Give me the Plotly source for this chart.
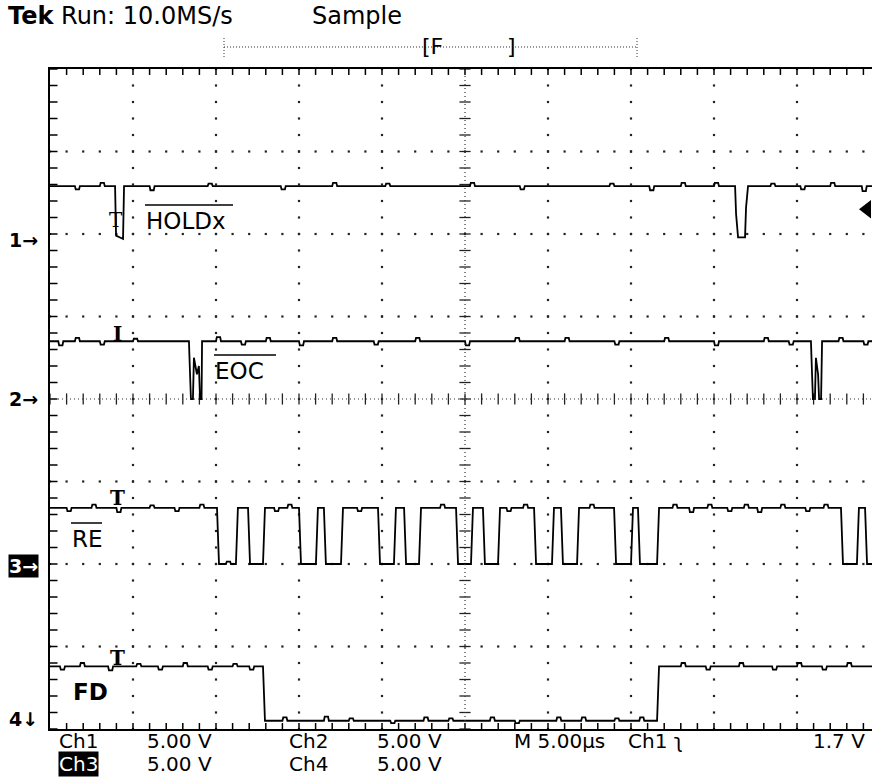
import numpy as np
import plotly.graph_objects as go

# ---------------- data (time in microseconds, level in volts) ----------------
US_PER_DIV = 5.0
V_PER_DIV = 5.0

# Ch1  /HOLDx  (breakpoints)
ch1_t = [0.0, 3.92, 3.98, 4.40, 4.46, 41.27, 41.33, 41.45, 41.87, 41.93, 42.05, 49.6]
ch1_v = [3.1, 3.1, 0.1, -0.1, 3.1, 3.1, 1.4, 0.0, 0.0, 1.8, 3.1, 3.1]
ch1_blip_t = [1.5, 3.0, 6.0, 9.5, 13.9, 17.0, 20.2, 25.3, 28.3, 33.7, 36.1, 38.0, 40.0, 43.4, 45.2, 47.0, 48.9]
ch1_blip_v = [-0.2, 0.2, -0.25, 0.15, -0.2, 0.2, 0.15, 0.2, -0.2, 0.15, -0.25, 0.2, 0.2, 0.15, -0.2, 0.2, -0.3]

# Ch2  /EOC
ch2_t = [0.0, 8.37, 8.43, 8.49, 8.61, 8.67, 8.85, 8.97, 9.04, 9.13, 9.16,
         45.84, 45.90, 45.96, 46.08, 46.14, 46.27, 46.33, 46.45, 46.51, 49.6]
ch2_v = [3.5, 3.5, 1.7, 0.0, 0.0, 2.5, 1.5, 2.0, 0.0, 0.0, 3.5,
         3.5, 1.7, 0.0, 0.0, 2.5, 1.5, 0.0, 0.0, 3.5, 3.5]
ch2_blip_t = [0.5, 1.5, 3.0, 5.0, 10.0, 11.5, 13.0, 15.0, 17.0, 19.5, 22.0, 25.0,
              28.0, 31.0, 34.0, 37.0, 40.0, 43.0, 44.5, 47.5, 49.0]
ch2_blip_v = [-0.25, 0.2, -0.2, 0.15, 0.25, -0.2, 0.2, -0.25, 0.2, -0.2, 0.2, -0.25,
              0.2, 0.2, -0.2, 0.2, -0.25, 0.2, -0.2, 0.2, -0.2]

# Ch3  /RE  (edges: fall, rise, fall, rise ...)
ch3_edges = [10.06, 11.20, 11.93, 12.83,
             15.00, 16.02, 16.50, 17.53,
             19.76, 20.72, 21.33, 22.23,
             24.46, 25.36, 26.08, 26.99,
             29.16, 30.24, 30.78, 31.75,
             33.98, 35.00, 35.42, 36.57,
             47.65, 48.61, 49.10]
ch3_high = 3.4
ch3_low = 0.0
ch3_blip_t = [1.0, 2.5, 4.0, 6.0, 7.5, 9.0, 10.6, 13.5, 14.3, 18.5, 23.5, 27.5, 28.5,
              32.5, 37.5, 38.5, 39.6, 40.8, 41.8, 42.6, 44.0, 45.5, 46.6]
ch3_blip_v = [-0.2, 0.2, -0.25, 0.15, -0.2, 0.2, 0.15, -0.2, 0.2, -0.2, 0.2, -0.2, 0.2,
              0.2, 0.2, -0.25, 0.2, -0.2, 0.2, -0.25, 0.2, -0.2, 0.2]

# Ch4  FD  (edges: fall, rise)
ch4_edges = [12.83, 36.57]
ch4_high = 3.3
ch4_low = 0.0
ch4_blip_t = [0.6, 1.8, 3.5, 5.2, 6.5, 8.0, 9.5, 11.0, 12.0,
              14.0, 16.5, 18.0, 20.5, 22.5, 24.0, 26.5, 28.0, 30.5, 32.0, 34.0, 35.5,
              38.0, 39.5, 41.5, 43.5, 45.0, 46.5, 48.0]
ch4_blip_v = [-0.2, 0.2, -0.25, 0.15, -0.2, 0.2, -0.2, 0.15, -0.2,
              0.2, 0.25, 0.15, -0.15, 0.2, 0.15, 0.2, -0.15, 0.2, 0.2, 0.15, 0.2,
              0.2, -0.2, 0.2, -0.2, 0.2, -0.2, 0.2]

# channel ground positions (divisions from centre)
ch_offset = {"1": 1.96, "2": 0.0, "3": -2.0, "4": -3.9}

# ---------------- helpers ----------------
X_MAX = 822 / 83 * US_PER_DIV  # visible part of the 10 div screen


def edges_to_wave(edges, hi, lo, start_high=True, slope=0.12):
    t = [0.0]
    v = [hi if start_high else lo]
    level = start_high
    for e in edges:
        t.append(e)
        v.append(hi if level else lo)
        level = not level
        t.append(e + slope)
        v.append(hi if level else lo)
    t.append(X_MAX + 1)
    v.append(hi if level else lo)
    return t, v


def add_blips(t, v, bt, bv, w=0.25):
    pts = list(zip(t, v))
    for t0, dv in zip(bt, bv):
        base = float(np.interp(t0, t, v))
        pts += [(t0, base), (t0 + 0.05, base + dv),
                (t0 + w, base + dv), (t0 + w + 0.05, base)]
    pts.sort(key=lambda p: p[0])
    return [p[0] for p in pts], [p[1] for p in pts]


def to_div(v, ch):
    return [ch_offset[ch] + x / V_PER_DIV for x in v]


ch3_t, ch3_v = edges_to_wave(ch3_edges, ch3_high, ch3_low)
ch4_t, ch4_v = edges_to_wave(ch4_edges, ch4_high, ch4_low)

waves = [
    add_blips(ch1_t, ch1_v, ch1_blip_t, ch1_blip_v) + ("1",),
    add_blips(ch2_t, ch2_v, ch2_blip_t, ch2_blip_v) + ("2",),
    add_blips(ch3_t, ch3_v, ch3_blip_t, ch3_blip_v) + ("3",),
    add_blips(ch4_t, ch4_v, ch4_blip_t, ch4_blip_v) + ("4",),
]

fig = go.Figure()

# ---------------- graticule ----------------
minor_y = np.round(np.arange(-4, 4.0001, 0.2), 3)
minor_x = np.arange(0, X_MAX, 1.0)
gx, gy = [], []
for xv in [5, 10, 15, 20, 30, 35, 40, 45]:
    for yv in minor_y:
        gx.append(xv)
        gy.append(yv)
for yv in [-3, -2, -1, 1, 2, 3]:
    for xv in minor_x:
        gx.append(xv)
        gy.append(yv)
fig.add_trace(go.Scatter(x=gx, y=gy, mode="markers", hoverinfo="skip",
                         marker=dict(symbol="square", size=2.2, color="#222"),
                         showlegend=False))

# centre axes (dotted) with crossing ticks
fig.add_shape(type="line", x0=25, x1=25, y0=-4, y1=4,
              line=dict(color="#333", width=1.2, dash="1px,3px"))
fig.add_shape(type="line", x0=0, x1=X_MAX, y0=0, y1=0,
              line=dict(color="#333", width=1.2, dash="1px,3px"))
fig.add_trace(go.Scatter(x=[25] * len(minor_y), y=minor_y, mode="markers",
                         hoverinfo="skip", showlegend=False,
                         marker=dict(symbol="line-ew", size=8,
                                     line=dict(width=1.3, color="#222"))))
fig.add_trace(go.Scatter(x=minor_x, y=[0] * len(minor_x), mode="markers",
                         hoverinfo="skip", showlegend=False,
                         marker=dict(symbol="line-ns", size=8,
                                     line=dict(width=1.3, color="#222"))))
# border ticks
bx = list(minor_x[1:])
fig.add_trace(go.Scatter(x=bx + bx, y=[3.97] * len(bx) + [-3.97] * len(bx),
                         mode="markers", hoverinfo="skip", showlegend=False,
                         marker=dict(symbol="line-ns", size=5,
                                     line=dict(width=1.5, color="black"))))
fig.add_trace(go.Scatter(x=[0.2] * len(minor_y), y=minor_y,
                         mode="markers", hoverinfo="skip", showlegend=False,
                         marker=dict(symbol="line-ew", size=6,
                                     line=dict(width=1.5, color="black"))))

# ---------------- waveforms ----------------
for t, v, ch in waves:
    fig.add_trace(go.Scatter(x=t, y=to_div(v, ch), mode="lines",
                             line=dict(color="black", width=1.8),
                             hoverinfo="skip", showlegend=False))

# trigger level marker (right edge)
fig.add_trace(go.Scatter(x=[X_MAX - 0.3], y=[ch_offset["1"] + 1.7 / V_PER_DIV],
                         mode="markers", hoverinfo="skip", showlegend=False,
                         cliponaxis=False,
                         marker=dict(symbol="triangle-left", size=16, color="black")))


# ---------------- text ----------------
def px_x(px):
    return (px - 50) / 822


def px_y(py):
    return (729 - py) / 660


ann = []
hdr_font = dict(family="DejaVu Sans, sans-serif", size=24, color="black")
ftr_font = dict(family="DejaVu Sans, sans-serif", size=20, color="black")


def add_text(text, x, y, font, xanchor="left", **kw):
    kw.setdefault("borderpad", 0)
    ann.append(dict(text=text, x=px_x(x), y=px_y(y), xref="paper", yref="paper",
                    xanchor=xanchor, yanchor="middle", showarrow=False,
                    font=font, **kw))


add_text("<b>Tek</b> Run: 10.0MS/s", 7, 16, hdr_font)
add_text("Sample", 311, 16, hdr_font)

add_text("Ch1", 58, 741, ftr_font)
add_text("5.00 V", 146, 741, ftr_font)
add_text("Ch2", 288, 741, ftr_font)
add_text("5.00 V", 376, 741, ftr_font)
add_text("M 5.00µs", 513, 741, ftr_font)
add_text("Ch1 ʅ", 627, 741, ftr_font)
add_text("1.7 V", 866, 741, ftr_font, xanchor="right")
add_text("Ch3", 58, 764, dict(ftr_font, color="white"), bgcolor="black")
add_text("5.00 V", 146, 764, ftr_font)
add_text("Ch4", 288, 764, ftr_font)
add_text("5.00 V", 376, 764, ftr_font)

mk_font = dict(family="DejaVu Sans, sans-serif", size=19, color="black", weight="bold")
add_text("1→", 8, 240, mk_font)
add_text("2→", 8, 399, mk_font)
add_text("3→", 8, 566, dict(mk_font, color="white"), bgcolor="black")
add_text("4↓", 8, 719, mk_font)

lbl_font = dict(family="DejaVu Sans, sans-serif", size=23, color="black")
add_text("HOLDx", 145, 221, lbl_font)
add_text("EOC", 214, 371, lbl_font)
add_text("RE", 71, 539, lbl_font)
add_text("FD", 72, 692, dict(lbl_font, weight="bold"))

# channel "T" markers
tm_font = dict(family="DejaVu Serif, serif", size=20, color="black", weight="bold")
add_text("T", 116, 220, dict(tm_font, weight="normal"), xanchor="center")
add_text("I", 117, 334, tm_font, xanchor="center")
add_text("T", 117, 498, tm_font, xanchor="center")
add_text("T", 117, 658, tm_font, xanchor="center")

# time window indicator
add_text("[F", 421, 47, dict(hdr_font, size=22), xanchor="left")
add_text("]", 506, 47, dict(hdr_font, size=22), xanchor="left")

fig.update_layout(annotations=ann)

shapes = [
    dict(type="line", xref="paper", yref="paper", x0=px_x(224), x1=px_x(637),
         y0=px_y(47), y1=px_y(47), line=dict(color="#333", width=1, dash="1px,2px")),
    dict(type="line", xref="paper", yref="paper", x0=px_x(224), x1=px_x(224),
         y0=px_y(38), y1=px_y(57), line=dict(color="#333", width=1, dash="1px,2px")),
    dict(type="line", xref="paper", yref="paper", x0=px_x(637), x1=px_x(637),
         y0=px_y(38), y1=px_y(57), line=dict(color="#333", width=1, dash="1px,2px")),
    # overlines for active-low signal names
    dict(type="line", xref="paper", yref="paper", x0=px_x(145), x1=px_x(233),
         y0=px_y(205), y1=px_y(205), line=dict(color="black", width=1.5)),
    dict(type="line", xref="paper", yref="paper", x0=px_x(214), x1=px_x(276),
         y0=px_y(355), y1=px_y(355), line=dict(color="black", width=1.5)),
    dict(type="line", xref="paper", yref="paper", x0=px_x(71), x1=px_x(102),
         y0=px_y(523), y1=px_y(523), line=dict(color="black", width=1.5)),
]
for s in shapes:
    fig.add_shape(**s)

fig.update_layout(
    width=872, height=778,
    margin=dict(l=50, r=0, t=69, b=49, pad=0),
    paper_bgcolor="white", plot_bgcolor="white",
    showlegend=False,
    xaxis=dict(range=[0, X_MAX], showgrid=False, zeroline=False,
               showticklabels=False, ticks="", showline=True, mirror=True,
               linecolor="black", linewidth=2, fixedrange=True),
    yaxis=dict(range=[-4, 4], showgrid=False, zeroline=False,
               showticklabels=False, ticks="", showline=True, mirror=False,
               linecolor="black", linewidth=2, fixedrange=True),
)

# remove the page's default body margin so the figure fills the window exactly
fig.write_html("out.html",
               config={"displayModeBar": False, "staticPlot": True},
               post_script="document.body.style.margin='0';"
                           "document.body.style.overflow='hidden';")
